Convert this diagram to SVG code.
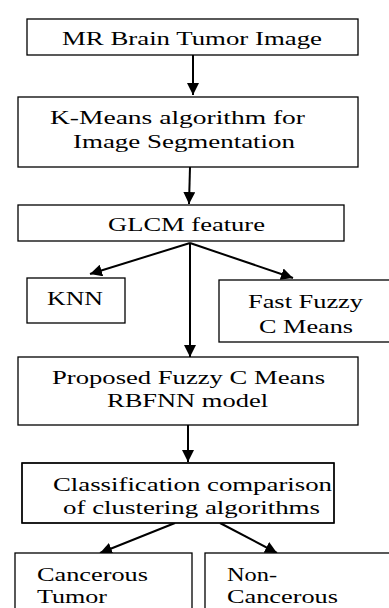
<svg xmlns="http://www.w3.org/2000/svg" width="389" height="608" viewBox="0 0 389 608" font-family="'Liberation Serif', 'Times New Roman', serif" font-size="19">
<style>
.box{fill:#fff;stroke:#000;stroke-width:1.3}
.c{stroke:#000;stroke-width:2;fill:none;marker-end:url(#ah)}
</style>
<defs>
<marker id="ah" viewBox="0 0 10 10" refX="10" refY="5" markerWidth="6" markerHeight="6" markerUnits="strokeWidth" orient="auto">
<path d="M0,0 L10,5 L0,10 Z" fill="#000"/>
</marker>
<clipPath id="c5"><rect x="22" y="463" width="312" height="60"/></clipPath>
</defs>
<rect width="389" height="608" fill="#fff"/>
<g id="connectors">
<line class="c" x1="193" y1="55" x2="193" y2="95"/>
<line class="c" x1="190" y1="167" x2="189" y2="204"/>
<line class="c" x1="190" y1="243" x2="90" y2="274"/>
<line class="c" x1="190" y1="243" x2="293" y2="278"/>
<line class="c" x1="190" y1="243" x2="190" y2="357"/>
<line class="c" x1="188" y1="425" x2="188" y2="462"/>
<line class="c" x1="175" y1="523" x2="100" y2="553"/>
<line class="c" x1="220" y1="523" x2="277" y2="553"/>
</g>
<g id="n1">
<rect class="box" x="27" y="19" width="331" height="36"/>
<text x="62" y="45" textLength="260" lengthAdjust="spacingAndGlyphs">MR Brain Tumor Image</text>
</g>
<g id="n2">
<rect class="box" x="18" y="97" width="340" height="70"/>
<text x="50" y="124" textLength="255" lengthAdjust="spacingAndGlyphs">K-Means algorithm for</text>
<text x="73" y="148" textLength="222" lengthAdjust="spacingAndGlyphs">Image Segmentation</text>
</g>
<g id="n3">
<rect class="box" x="18" y="205" width="326" height="36"/>
<text x="108" y="231" textLength="157" lengthAdjust="spacingAndGlyphs">GLCM feature</text>
</g>
<g id="n4">
<rect class="box" x="27" y="278" width="98" height="45"/>
<text x="47" y="305" textLength="56" lengthAdjust="spacingAndGlyphs">KNN</text>
</g>
<g id="n5">
<rect class="box" x="219" y="280" width="172" height="62"/>
<text x="248" y="308" textLength="115" lengthAdjust="spacingAndGlyphs">Fast Fuzzy</text>
<text x="259" y="333" textLength="94" lengthAdjust="spacingAndGlyphs">C Means</text>
</g>
<g id="n6">
<rect class="box" x="18" y="357" width="340" height="68"/>
<text x="52" y="384" textLength="273" lengthAdjust="spacingAndGlyphs">Proposed Fuzzy C Means</text>
<text x="107" y="407" textLength="161" lengthAdjust="spacingAndGlyphs">RBFNN model</text>
</g>
<g id="n7">
<rect class="box" x="22" y="463" width="312" height="60"/>
<g clip-path="url(#c5)">
<text x="53" y="491" textLength="279" lengthAdjust="spacingAndGlyphs">Classification comparison</text>
<text x="63" y="514" textLength="257" lengthAdjust="spacingAndGlyphs">of clustering algorithms</text>
</g>
<rect x="22" y="463" width="312" height="60" fill="none" stroke="#000" stroke-width="1.3"/>
</g>
<g id="n8">
<rect class="box" x="15" y="553" width="177" height="70"/>
<text x="37" y="581" textLength="111" lengthAdjust="spacingAndGlyphs">Cancerous</text>
<text x="37" y="603" textLength="70" lengthAdjust="spacingAndGlyphs">Tumor</text>
</g>
<g id="n9">
<rect class="box" x="205" y="553" width="190" height="70"/>
<text x="227" y="581" textLength="50" lengthAdjust="spacingAndGlyphs">Non-</text>
<text x="227" y="603" textLength="111" lengthAdjust="spacingAndGlyphs">Cancerous</text>
</g>
</svg>
